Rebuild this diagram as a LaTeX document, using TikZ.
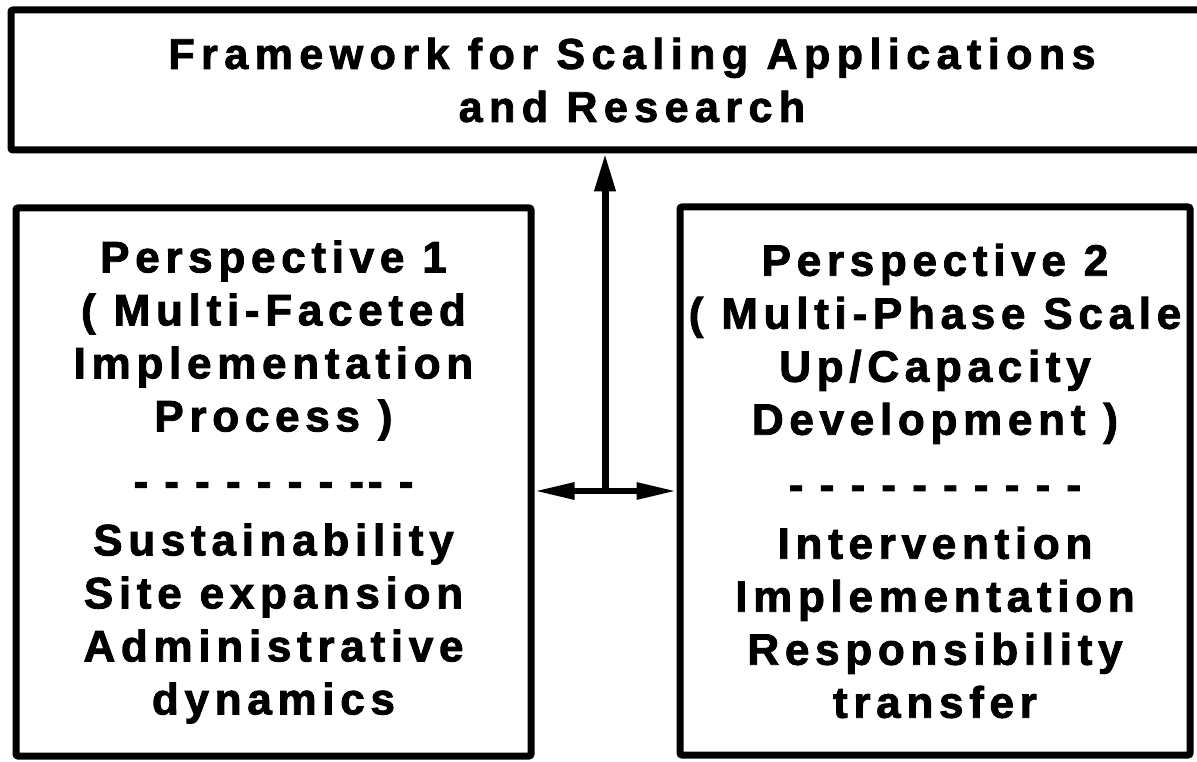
\documentclass[tikz,border=0pt]{standalone}
\usepackage{fontspec}
\newfontfamily\boxfont{Liberation Sans}[LetterSpace=13,BoldFeatures={FakeBold=2}]
\newfontfamily\titlefont{Liberation Sans}[LetterSpace=15,BoldFeatures={FakeBold=2}]
\newfontfamily\dashfont{Liberation Sans}[LetterSpace=9,BoldFeatures={FakeBold=2}]
\usetikzlibrary{arrows.meta,positioning}

\begin{document}
\begin{tikzpicture}[x=1pt,y=-1pt,
    box/.style={draw, line width=7pt, rounded corners=2pt, inner sep=0pt, align=center,
      font=\boxfont\bfseries\fontsize{44}{53}\selectfont},
    link/.style={line width=7pt, -{Triangle[length=38pt,width=20pt]}}]
  \useasboundingbox (0,0) rectangle (1197,762);
  \node[box, minimum width=1242pt, minimum height=140pt,
    font=\titlefont\bfseries\fontsize{43}{53}\selectfont] (frame) at (632,80)
    {Framework for Scaling Applications\\and Research};
  \node[box, minimum width=515pt, minimum height=548pt] (persp1) at (273.5,482)
    {Perspective 1\\( Multi-Faceted\\Implementation\\Process )\\[12pt]
     {\dashfont - - - - - - - -- -}\\[6pt]
     Sustainability\\Site expansion\\Administrative\\dynamics};
  \node[box, minimum width=510pt, minimum height=548pt] (persp2) at (935,481)
    {Perspective 2\\\makebox[400pt]{( Multi-Phase Scale}\\Up/Capacity\\Development )\\[12pt]
     {\dashfont - - - - - - - - - -}\\[6pt]
     Intervention\\Implementation\\Responsibility\\transfer};
  \coordinate (hub) at (605,491);
  \draw[link] (hub) -- (hub |- frame.south);
  \draw[line width=6pt, {Triangle[length=40pt,width=16pt]}-{Triangle[length=40pt,width=16pt]}]
    (persp1.east |- hub) -- (persp2.west |- hub);
\end{tikzpicture}
\end{document}
